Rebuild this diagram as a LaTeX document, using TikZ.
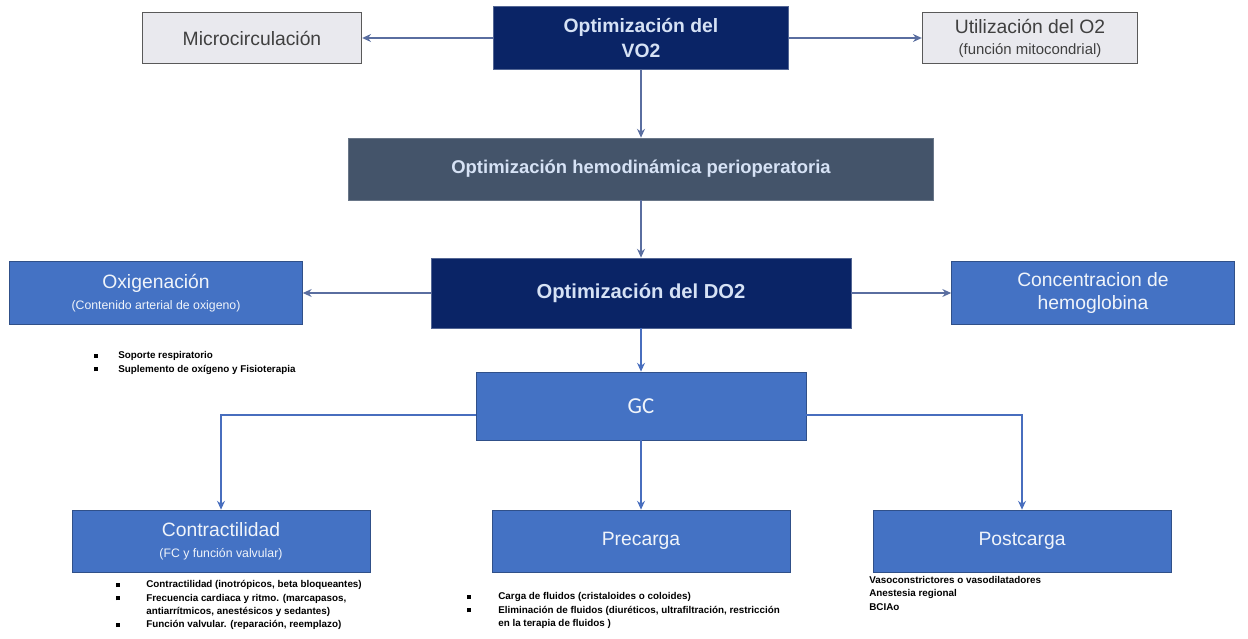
\documentclass[tikz,border=0pt]{standalone}
\usepackage{fontspec}
\setmainfont{Liberation Sans}
\newfontfamily\gcfont{Carlito}
\usetikzlibrary{arrows.meta, positioning}
\definecolor{navybox}{RGB}{10,36,102}
\definecolor{slatebox}{RGB}{68,84,106}
\definecolor{midblue}{RGB}{68,114,196}
\definecolor{greybox}{RGB}{233,233,238}
\definecolor{linkgrey}{RGB}{90,110,160}
\definecolor{linkblue}{RGB}{72,110,190}
\definecolor{titletext}{RGB}{214,226,245}
\newcommand{\sqbul}{\rule[0.4pt]{2.2pt}{2.2pt}}

\begin{document}
\begin{tikzpicture}[x=0.02cm, y=-0.02cm,
    navy/.style={rectangle, draw=navybox!70!white, fill=navybox, text=titletext, inner sep=0pt, align=center, font=\bfseries\fontsize{11}{14}\selectfont},
    slate/.style={rectangle, draw=slatebox!80!white, fill=slatebox, text=titletext, inner sep=0pt, align=center, font=\bfseries\fontsize{10.5}{13}\selectfont},
    greyb/.style={rectangle, draw=black!65, line width=0.8pt, fill=greybox, text=black!75, inner sep=0pt, align=center, font=\fontsize{11}{13}\selectfont},
    blueb/.style={rectangle, draw=midblue!70!black, fill=midblue, text=white!92!midblue, inner sep=0pt, align=center, font=\fontsize{11}{13}\selectfont},
    bullets/.style={anchor=north west, inner sep=0pt, align=left, font=\bfseries\fontsize{5.6}{7.6}\selectfont},
    link/.style={-{Stealth[length=5pt, width=4.5pt]}, line width=1.1pt, draw=linkgrey},
    glink/.style={-{Stealth[length=5pt, width=4.5pt]}, line width=1.2pt, draw=linkblue}
]
\useasboundingbox (0,0) rectangle (1248,639);

% top row
\node[navy, minimum width=5.9cm, minimum height=1.26cm] (vo2) at (641,38) {Optimización del\\VO2};
\node[greyb, minimum width=4.38cm, minimum height=1.02cm] (micro) at (252,38) {Microcirculación};
\node[greyb, minimum width=4.3cm, minimum height=1.02cm] (util) at (1030,38) {Utilización del O2\\[-1pt]{\fontsize{8.5}{10}\selectfont (función mitocondrial)}};

\node[slate, minimum width=11.7cm, minimum height=1.24cm] (hemo) at (641,169) {Optimización hemodinámica perioperatoria};

% DO2 row
\node[navy, minimum width=8.4cm, minimum height=1.4cm, font=\bfseries\fontsize{11.5}{14}\selectfont] (do2) at (641,293) {Optimización del DO2};
\node[blueb, minimum width=5.86cm, minimum height=1.26cm] (oxig) at (156,293) {Oxigenación\\[-1pt]{\fontsize{7}{9}\selectfont (Contenido arterial de oxigeno)}};
\node[blueb, minimum width=5.66cm, minimum height=1.26cm] (hb) at (1093,293) {Concentracion de\\hemoglobina};

\node[bullets] (oxigtxt) at (94,349) {\begin{tabular}{@{}p{0.48cm}@{}l@{}}
\sqbul & Soporte respiratorio\\
\sqbul & Suplemento de oxígeno y Fisioterapia
\end{tabular}};

% GC and its branches
\node[blueb, minimum width=6.6cm, minimum height=1.36cm, font=\gcfont\fontsize{13}{15}\selectfont] (gc) at (641,406) {GC};
\node[blueb, minimum width=5.96cm, minimum height=1.24cm] (contr) at (221,541) {Contractilidad\\[-1pt]{\fontsize{7}{9}\selectfont (FC y función valvular)}};
\node[blueb, minimum width=5.96cm, minimum height=1.24cm] (prec) at (641,541) {Precarga};
\node[blueb, minimum width=5.96cm, minimum height=1.24cm] (post) at (1022,541) {Postcarga};

\node[bullets] (contrtxt) at (116,578) {\begin{tabular}{@{}p{0.6cm}@{}p{5.2cm}@{}}
\sqbul & Contractilidad (inotrópicos, beta bloqueantes)\\
\sqbul & Frecuencia cardiaca y ritmo. (marcapasos,\newline antiarrítmicos, anestésicos y sedantes)\\
\sqbul & Función valvular. (reparación, reemplazo)
\end{tabular}};
\node[bullets] (prectxt) at (467,590) {\begin{tabular}{@{}p{0.62cm}@{}p{6.2cm}@{}}
\sqbul & Carga de fluidos (cristaloides o coloides)\\
\sqbul & Eliminación de fluidos (diuréticos, ultrafiltración, restricción\newline en la terapia de fluidos )
\end{tabular}};
\node[bullets] (posttxt) at (869,576) {Vasoconstrictores o vasodilatadores\\Anestesia regional\\BCIAo};

% connectors
\draw[link] (vo2) -- (micro);
\draw[link] (vo2) -- (util);
\draw[link] (vo2) -- (hemo);
\draw[link] (hemo) -- (do2);
\draw[link] (do2) -- (oxig);
\draw[link] (do2) -- (hb);
\draw[glink] (do2) -- (gc);
\draw[glink] ([yshift=-0.18cm]gc.west) -| (contr);
\draw[glink] (gc) -- (prec);
\draw[glink] ([yshift=-0.18cm]gc.east) -| (post);
\end{tikzpicture}
\end{document}
